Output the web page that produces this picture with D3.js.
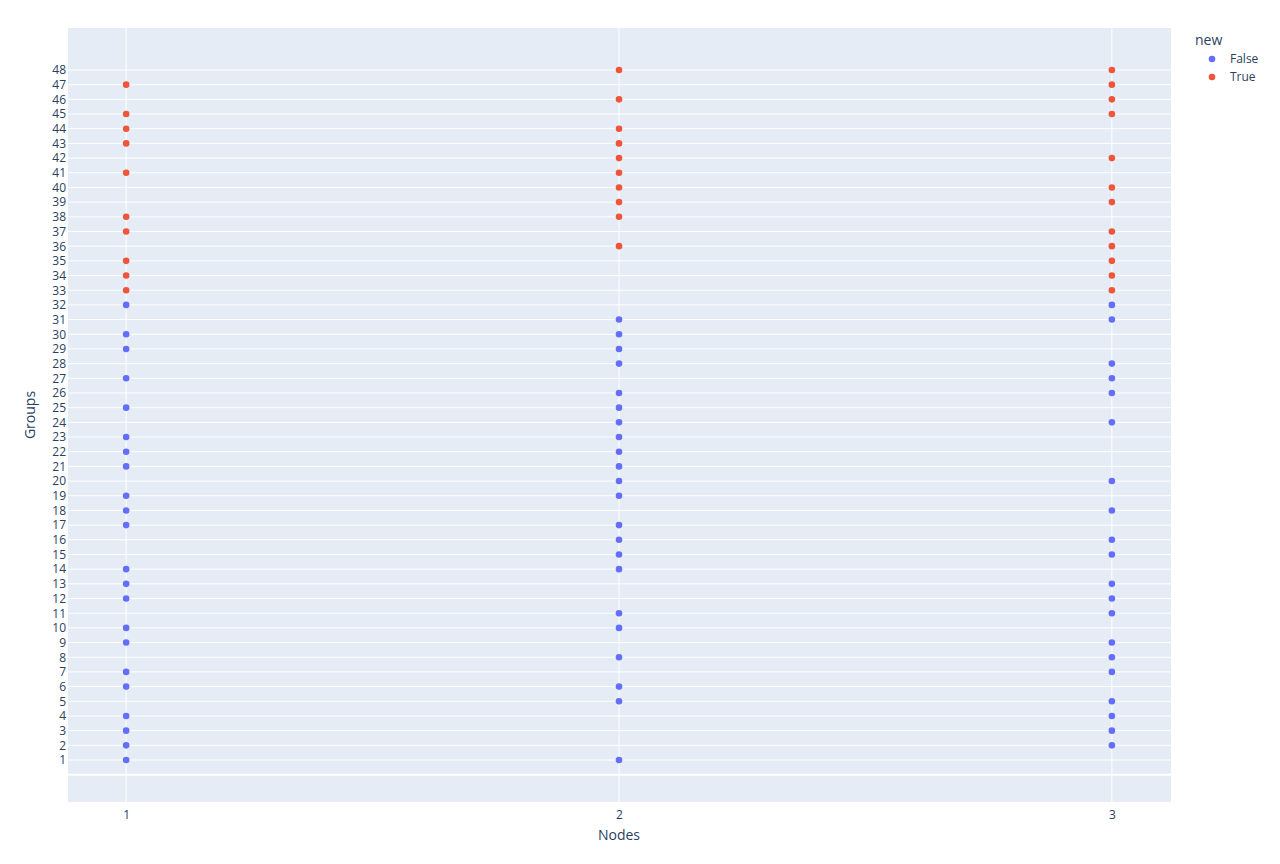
<!DOCTYPE html>
<html>
<head>
<meta charset="utf-8">
<script src="https://cdn.jsdelivr.net/npm/d3@7"></script>
<style>
  body { margin: 0; background: #fff; }
  text { font-family: "Open Sans", sans-serif; fill: #2a3f5f; }
</style>
</head>
<body>
<svg id="chart" width="1280" height="864"></svg>
<script>
// groups per node, split by "new"
var nodes = [1, 2, 3];
var falseNode1 = [1,2,3,4,6,7,9,10,12,13,14,17,18,19,21,22,23,25,27,29,30,32];
var trueNode1  = [33,34,35,37,38,41,43,44,45,47];
var falseNode2 = [1,5,6,8,10,11,14,15,16,17,19,20,21,22,23,24,25,26,28,29,30,31];
var trueNode2  = [36,38,39,40,41,42,43,44,46,48];
var falseNode3 = [2,3,4,5,7,8,9,11,12,13,15,16,18,20,24,26,27,28,31,32];
var trueNode3  = [33,34,35,36,37,39,40,42,45,46,47,48];
var yTicks = d3.range(1, 49);
var seriesNames = ['False', 'True'];
var colors = ['#636efa', '#EF553B'];

var series = [
  { name: 'False', pts: [[1, falseNode1], [2, falseNode2], [3, falseNode3]] },
  { name: 'True',  pts: [[1, trueNode1],  [2, trueNode2],  [3, trueNode3]] }
];

var svg = d3.select('#chart');
var plot = { left: 68, top: 28, right: 1171, bottom: 802 };

var x = d3.scaleLinear().domain([0.882, 3.12]).range([plot.left, plot.right]);
var y = d3.scaleLinear().domain([-1.86, 50.86]).range([plot.bottom, plot.top]);
var color = d3.scaleOrdinal().domain(seriesNames).range(colors);

svg.append('rect')
  .attr('x', plot.left).attr('y', plot.top)
  .attr('width', plot.right - plot.left).attr('height', plot.bottom - plot.top)
  .attr('fill', '#E5ECF6');

// grid
var grid = svg.append('g');
grid.selectAll('.gy').data(yTicks).enter().append('line')
  .attr('x1', plot.left).attr('x2', plot.right)
  .attr('y1', function(d){ return y(d); }).attr('y2', function(d){ return y(d); })
  .attr('stroke', '#fff').attr('stroke-width', 1);
grid.selectAll('.gx').data(nodes).enter().append('line')
  .attr('y1', plot.top).attr('y2', plot.bottom)
  .attr('x1', function(d){ return x(d); }).attr('x2', function(d){ return x(d); })
  .attr('stroke', '#fff').attr('stroke-width', 1);
// zero line
grid.append('line')
  .attr('x1', plot.left).attr('x2', plot.right)
  .attr('y1', y(0)).attr('y2', y(0))
  .attr('stroke', '#fff').attr('stroke-width', 2);

// axes
var yAxis = svg.append('g')
  .attr('transform', 'translate(' + plot.left + ',0)')
  .call(d3.axisLeft(y).tickValues(yTicks).tickSize(0).tickPadding(2));
var xAxis = svg.append('g')
  .attr('transform', 'translate(0,' + plot.bottom + ')')
  .call(d3.axisBottom(x).tickValues(nodes).tickFormat(d3.format('d')).tickSize(0).tickPadding(8));
[yAxis, xAxis].forEach(function(a){
  a.select('.domain').remove();
  a.selectAll('text').style('font-size', '12px').attr('fill', '#2a3f5f')
    .style('font-family', '"Open Sans", sans-serif');
});

svg.append('text')
  .attr('x', x(2)).attr('y', 840)
  .attr('text-anchor', 'middle').style('font-size', '14px')
  .text('Nodes');
svg.append('text')
  .attr('transform', 'translate(35,' + ((plot.top + plot.bottom) / 2) + ') rotate(-90)')
  .attr('text-anchor', 'middle').style('font-size', '14px')
  .text('Groups');

// points
series.forEach(function(s){
  var flat = [];
  s.pts.forEach(function(p){
    p[1].forEach(function(g){ flat.push({ node: p[0], group: g }); });
  });
  svg.append('g').selectAll('circle').data(flat).enter().append('circle')
    .attr('cx', function(d){ return x(d.node); })
    .attr('cy', function(d){ return y(d.group); })
    .attr('r', 3.3)
    .attr('fill', color(s.name));
});

// legend
var legend = svg.append('g').attr('transform', 'translate(1195,0)');
legend.append('text').attr('x', 0).attr('y', 45).style('font-size', '14px').text('new');
var items = legend.selectAll('.item').data(seriesNames).enter().append('g')
  .attr('transform', function(d, i){ return 'translate(0,' + (59 + i * 18) + ')'; });
items.append('circle').attr('cx', 17).attr('cy', 0).attr('r', 3.3)
  .attr('fill', function(d){ return color(d); });
items.append('text').attr('x', 35).attr('y', 4).style('font-size', '12px')
  .text(function(d){ return d; });
</script>
</body>
</html>
